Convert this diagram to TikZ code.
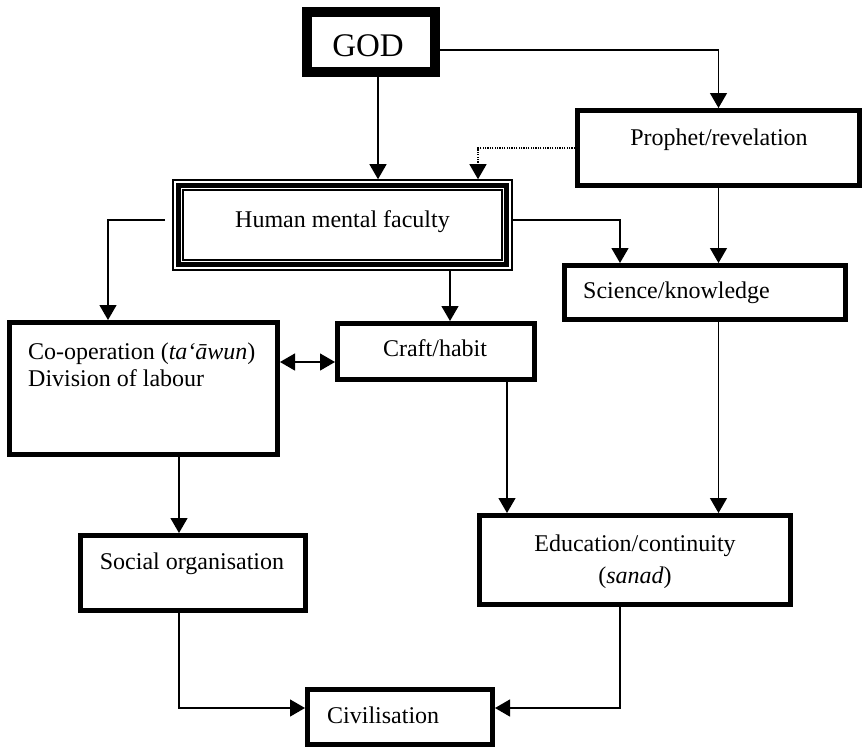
\documentclass[tikz,border=0pt]{standalone}
\usepackage{fontspec}
\setmainfont{Liberation Serif}
\usetikzlibrary{arrows.meta}
\begin{document}
\begin{tikzpicture}[x=1pt,y=-1pt,
  box/.style={draw, line width=5pt, inner sep=0pt},
  conn/.style={line width=1.3pt},
  arr/.style={conn, -{Triangle[width=17pt,length=15pt]}},
  dbl/.style={conn, {Triangle[width=17pt,length=15pt]}-{Triangle[width=17pt,length=15pt]}},
  dotline/.style={dash pattern=on 1.2pt off 1.2pt, line width=1.2pt},
  txt/.style={font=\fontsize{24}{27}\selectfont, inner sep=0pt}
]
\fill[white] (0,0) rectangle (863,748);
\useasboundingbox (0,0) rectangle (863,748);

% boxes
\node[box, line width=10pt, minimum width=128pt, minimum height=60pt] (god) at (371,42) {};
\node[txt, font=\fontsize{33}{33}\selectfont, anchor=base] (godtxt) at (368,56) {GOD};

\node[box, minimum width=282pt, minimum height=75pt] (prophet) at (718.5,148) {};
\node[txt, anchor=base] (prophettxt) at (719,145) {Prophet/revelation};

\node[draw, line width=4.5pt, outer sep=6.3pt, inner sep=0pt, minimum width=328pt, minimum height=79pt] (hmf) at (342.5,225) {};
\draw[line width=1.6pt] ([xshift=0.8pt,yshift=-0.8pt]hmf.north west) rectangle ([xshift=-0.8pt,yshift=0.8pt]hmf.south east);
\draw[line width=1.8pt] ([xshift=10.9pt,yshift=-10.9pt]hmf.north west) rectangle ([xshift=-10.9pt,yshift=10.9pt]hmf.south east);
\node[txt, anchor=base] (hmftxt) at (342.5,227) {Human mental faculty};

\node[box, minimum width=281pt, minimum height=54pt] (sci) at (705,292.5) {};
\node[txt, anchor=base west] (scitxt) at (583,298) {Science/knowledge};

\node[box, minimum width=268pt, minimum height=132pt] (coop) at (143.5,388.5) {};
\node[txt, anchor=base west] (cooptxta) at (28,359) {Co-operation (\textit{ta‘āwun})};
\node[txt, anchor=base west] (cooptxtb) at (28,386) {Division of labour};

\node[box, minimum width=197pt, minimum height=56pt] (craft) at (436,351.5) {};
\node[txt, anchor=base] (crafttxt) at (435,356) {Craft/habit};

\node[box, minimum width=311pt, minimum height=89pt] (edu) at (635,560) {};
\node[txt, anchor=base] (edutxta) at (635,551) {Education/continuity};
\node[txt, anchor=base] (edutxtb) at (635,583) {(\textit{sanad})};

\node[box, minimum width=225pt, minimum height=75pt] (social) at (193,573) {};
\node[txt, anchor=base] (socialtxt) at (192,569) {Social organisation};

\node[box, minimum width=185pt, minimum height=55pt] (civ) at (400,717) {};
\node[txt, anchor=base west] (civtxt) at (327,723) {Civilisation};

% connectors
\draw[arr] ([yshift=-8pt]god.east) -| (prophet.north);
\draw[arr] ([xshift=7pt]god.south) -- ([xshift=7pt]god.south |- hmf.north);
\draw[dotline, -{Triangle[width=17pt,length=15pt]}] (prophet.west) -| ([xshift=135.5pt]hmf.north);
\draw[arr] ([xshift=-7pt,yshift=5pt]hmf.west) -| ([xshift=-35.5pt]coop.north);
\draw[arr] ([yshift=5pt]hmf.east) -| ([xshift=-85pt]sci.north);
\draw[arr] (prophet.south) -- (prophet.south |- sci.north);
\draw[arr] ([xshift=107.5pt]hmf.south) -- ([xshift=107.5pt]hmf.south |- craft.north);
\draw[dbl] ([yshift=26.5pt]coop.east) -- ([yshift=26.5pt]coop.east -| craft.west);
\draw[arr] ([xshift=71pt]craft.south) -- ([xshift=71pt]craft.south |- edu.north);
\draw[arr] (prophet.south |- sci.south) -- (prophet.south |- edu.north);
\draw[arr] ([xshift=35.5pt]coop.south) -- ([xshift=35.5pt]coop.south |- social.north);
\draw[arr] ([xshift=-14pt]social.south) |- ([yshift=9pt]civ.west);
\draw[arr] ([xshift=-15pt]edu.south) |- ([yshift=9pt]civ.east);
\end{tikzpicture}
\end{document}
